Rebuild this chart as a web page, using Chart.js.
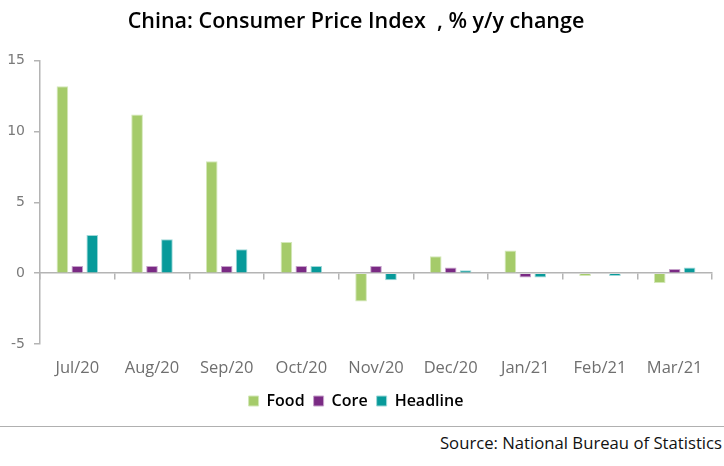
<!DOCTYPE html>
<html><head><meta charset="utf-8">
<script src="https://cdn.jsdelivr.net/npm/chart.js@4"></script>
<style>
html,body{margin:0;padding:0;background:#fff;width:724px;height:466px;overflow:hidden;font-family:"Open Sans",sans-serif;}
#wrap{position:relative;width:724px;height:424px;}
#rule{position:absolute;left:0;top:426px;width:724px;height:0;border-top:1.5px solid #b0b0b0;}
#src{position:absolute;right:2px;top:431px;font-size:16.7px;color:#111;font-family:"Open Sans",sans-serif;}
</style></head>
<body>
<div id="wrap"><canvas id="c" width="724" height="424"></canvas></div>
<div id="rule"></div>
<div id="src">Source: National Bureau of Statistics</div>
<script>
const categories = ["Jul/20","Aug/20","Sep/20","Oct/20","Nov/20","Dec/20","Jan/21","Feb/21","Mar/21"];
const food     = [13.2, 11.2, 7.9, 2.2, -2.0, 1.2, 1.6, -0.2, -0.7];
const core     = [0.5, 0.5, 0.5, 0.5, 0.5, 0.4, -0.3, 0.0, 0.3];
const headline = [2.7, 2.4, 1.7, 0.5, -0.5, 0.2, -0.3, -0.2, 0.4];
const yTicks   = [-5, 0, 5, 10, 15];

const axisGrey = '#b4b4b4';
const labelGrey = '#6f6f6f';

function ds(label, data, color, border) {
  return {label, data, backgroundColor: color, borderColor: border, borderWidth: 1,
          barPercentage: 0.78, categoryPercentage: 0.6, xAxisID: 'x', yAxisID: 'y'};
}

new Chart(document.getElementById('c'), {
  type: 'bar',
  data: {
    labels: categories,
    datasets: [
      ds('Food', food, '#a5cb6a', '#d3e8b8'),
      ds('Core', core, '#7a2a84', '#c7a3cc'),
      ds('Headline', headline, '#079a9a', '#9fd8d8')
    ]
  },
  options: {
    responsive: false,
    animation: false,
    layout: {padding: {left: 0, right: 12, top: 4, bottom: 5}},
    plugins: {
      title: {display: true, text: 'China: Consumer Price Index  , % y/y change',
              color: '#000', font: {family: 'Open Sans', size: 21.5, weight: '600'},
              padding: {top: 5, bottom: 26}},
      legend: {position: 'bottom',
               labels: {boxWidth: 10, boxHeight: 10, color: '#000', padding: 9,
                        font: {family: 'Open Sans', size: 16, weight: '600'}}},
      tooltip: {enabled: false}
    },
    scales: {
      x: {
        type: 'category', position: 'bottom',
        border: {display: false},
        grid: {display: false, drawTicks: false},
        afterFit: (axis) => { axis.height = 40; },
        ticks: {color: labelGrey, font: {family: 'Open Sans', size: 16.5}, padding: 14, maxRotation: 0}
      },
      x0: {
        type: 'category', labels: categories, position: {y: 0}, offset: true,
        border: {display: true, color: axisGrey, width: 1.5},
        grid: {display: true, drawOnChartArea: false, drawTicks: true, tickLength: 6, color: axisGrey, lineWidth: 1.5, offset: true},
        ticks: {display: false}
      },
      y: {
        min: -5, max: 15,
        afterBuildTicks: (axis) => { axis.ticks = yTicks.map(v => ({value: v})); },
        afterFit: (axis) => { axis.width = 40; },
        border: {display: true, color: axisGrey, width: 1.5},
        grid: {display: true, drawOnChartArea: false, drawTicks: true, tickLength: 6, color: axisGrey, lineWidth: 1.5},
        ticks: {color: '#7a7a7a', font: {family: 'DejaVu Sans', size: 14}, padding: 9}
      }
    }
  }
});
</script>
</body></html>
